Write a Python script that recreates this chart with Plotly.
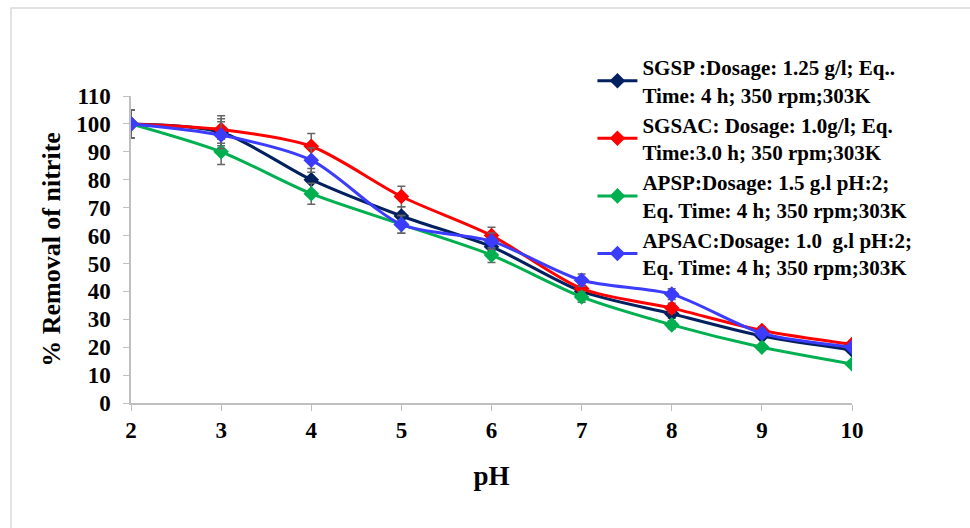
import plotly.graph_objects as go

ph = [2, 3, 4, 5, 6, 7, 8, 9, 10]
sgsp = [100, 97, 80, 67, 56, 40, 32, 24, 19]
sgsac = [100, 98, 92, 74, 60, 41, 34, 26, 21]
apsp = [100, 90, 75, 64, 53, 38, 28, 20, 14]
apsac = [100, 96, 87, 64, 58, 44, 39, 25, 20]

names = [
    "SGSP :Dosage: 1.25 g/l; Eq..<br>Time: 4 h; 350 rpm;303K",
    "SGSAC: Dosage: 1.0g/l; Eq.<br>Time:3.0 h; 350 rpm;303K",
    "APSP:Dosage: 1.5 g.l pH:2;<br>Eq. Time: 4 h; 350 rpm;303K",
    "APSAC:Dosage: 1.0  g.l pH:2;<br>Eq. Time: 4 h; 350 rpm;303K",
]
series = [sgsp, sgsac, apsp, apsac]
colors = ["#002060", "#ff0000", "#00b050", "#3c3cff"]

FONT = "Liberation Serif"
fig = go.Figure()
for name, ys, c in zip(names, series, colors):
    fig.add_trace(go.Scatter(
        x=ph, y=ys, name=name, mode="lines+markers",
        line=dict(color=c, width=3, shape="spline", smoothing=0.8),
        marker=dict(symbol="diamond", size=12, color=c),
        error_y=dict(type="percent", value=5, color="#666666", thickness=1.5, width=4),
    ))

fig.update_layout(
    width=970, height=528,
    margin=dict(l=131, r=118, t=96, b=125),
    plot_bgcolor="white", paper_bgcolor="white",
    font=dict(family=FONT, color="black"),
    showlegend=True,
    legend=dict(
        x=0.64, y=1.16, xanchor="left", yanchor="top",
        bgcolor="rgba(255,255,255,0)",
        font=dict(family=FONT, size=21, color="black", weight="bold"),
        tracegroupgap=2, itemwidth=40,
    ),
    xaxis=dict(
        range=[2, 10], tickmode="array", tickvals=ph, ticktext=[str(v) for v in ph],
        showline=True, linecolor="#bfbfbf", linewidth=1.5, showgrid=False, zeroline=False,
        ticks="outside", tickcolor="#bfbfbf", ticklen=6,
        tickfont=dict(family=FONT, size=23, color="black", weight="bold"),
        title=dict(text="pH", font=dict(family=FONT, size=27, color="black", weight="bold"), standoff=24),
    ),
    yaxis=dict(
        range=[0, 110], tickmode="array", tickvals=list(range(0, 111, 10)),
        showline=True, linecolor="#bfbfbf", linewidth=1.5, showgrid=False, zeroline=False,
        ticks="outside", tickcolor="#bfbfbf", ticklen=6, ticklabelstandoff=8,
        tickfont=dict(family=FONT, size=23, color="black", weight="bold"),
        title=dict(text="% Removal of nitrite", font=dict(family=FONT, size=26, color="black", weight="bold"), standoff=8),
    ),
    shapes=[dict(type="rect", xref="paper", yref="paper",
                 x0=(11 - 131) / 721, x1=(975 - 131) / 721,
                 y0=(403 - 540) / 307, y1=(403 - 8) / 307,
                 line=dict(color="#d9d9d9", width=1.5), fillcolor="rgba(0,0,0,0)", layer="below")],
)

fig.write_html("out.html")
